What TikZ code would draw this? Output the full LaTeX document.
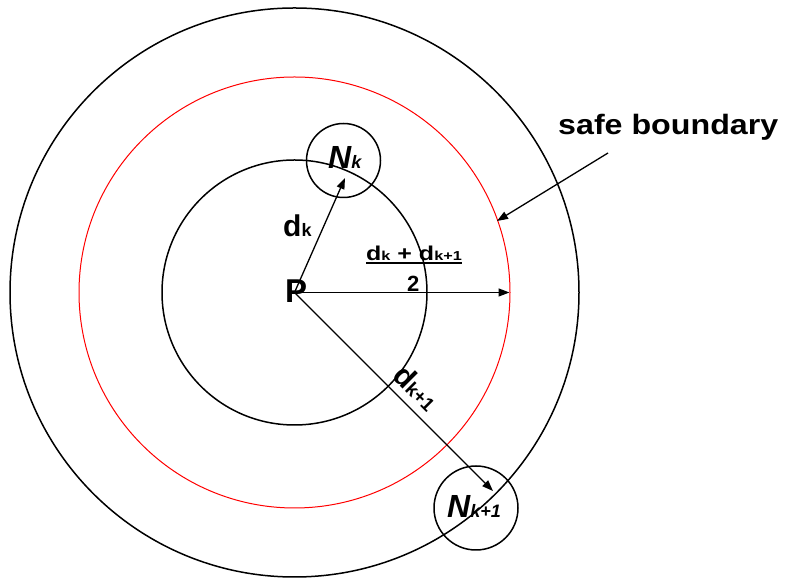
\documentclass[tikz,border=0pt]{standalone}
\usepackage{fontspec}
\setmainfont{Liberation Sans}
\usetikzlibrary{arrows.meta}
\begin{document}
\begin{tikzpicture}[x=1pt,y=1pt,
  ring/.style={circle,draw=black,line width=1.5pt,inner sep=0pt},
  redring/.style={circle,draw=red,line width=1pt,inner sep=0pt},
  txt/.style={inner sep=0pt,anchor=base west,font=\bfseries},
  arr/.style={line width=1.3pt,-{Triangle[length=11pt,width=8pt]}}]
\useasboundingbox (0,0) rectangle (788,580);
% centre
\coordinate (c) at (294.5,287.5);
\node[ring,minimum size=569pt] (outer) at (c) {};
\node[redring,minimum size=431pt] (safe) at (c) {};
\node[ring,minimum size=265pt] (inner) at (c) {};
\node[ring,minimum size=74pt] (nk) at (343.5,419.5) {};
\node[ring,minimum size=84pt] (nk1) at (476,72) {};
% arrow ends
\coordinate (tk) at (345,402);
\coordinate (tk1) at (493,89);
\coordinate (tr) at (509.5,287.5);
\coordinate (sbtail) at (608,427);
\coordinate (sbtip) at (497,359);
\draw[arr] (c) -- (tk);
\draw[arr] (c) -- (tr);
\draw[arr] (c) -- (tk1);
\draw[arr] (sbtail) -- (sbtip);
% labels
\node[txt] (lp) at (285,277) {\fontsize{33}{33}\selectfont P};
\node[txt] (lnk) at (328,411) {\itshape\fontsize{32}{32}\selectfont N\fontsize{18}{18}\selectfont k};
\node[txt] (ldk) at (283,343) {\fontsize{30}{30}\selectfont d\fontsize{18}{18}\selectfont k};
\node[txt] (lnk1) at (447,62) {\itshape\fontsize{32}{32}\selectfont N\fontsize{18}{18}\selectfont k+1};
\node[txt,rotate=-45] (ldk1) at (391,203) {\fontsize{30}{30}\selectfont d\fontsize{19}{19}\selectfont k+1};
\node[txt] (num) at (366,319) {\scalebox{1.25}[1]{\fontsize{20}{20}\selectfont d\fontsize{13}{13}\selectfont k\fontsize{20}{20}\selectfont\ + d\fontsize{13}{13}\selectfont k+1}};
\draw[line width=1.3pt] ([yshift=-2pt]num.base west) -- ([yshift=-2pt]num.base east);
\node[txt] (den) at (407,288) {\fontsize{22}{22}\selectfont 2};
\node[txt] (lsafe) at (558,445) {\fontsize{28}{28}\selectfont\scalebox{1.15}[1]{safe boundary}};
\end{tikzpicture}
\end{document}
